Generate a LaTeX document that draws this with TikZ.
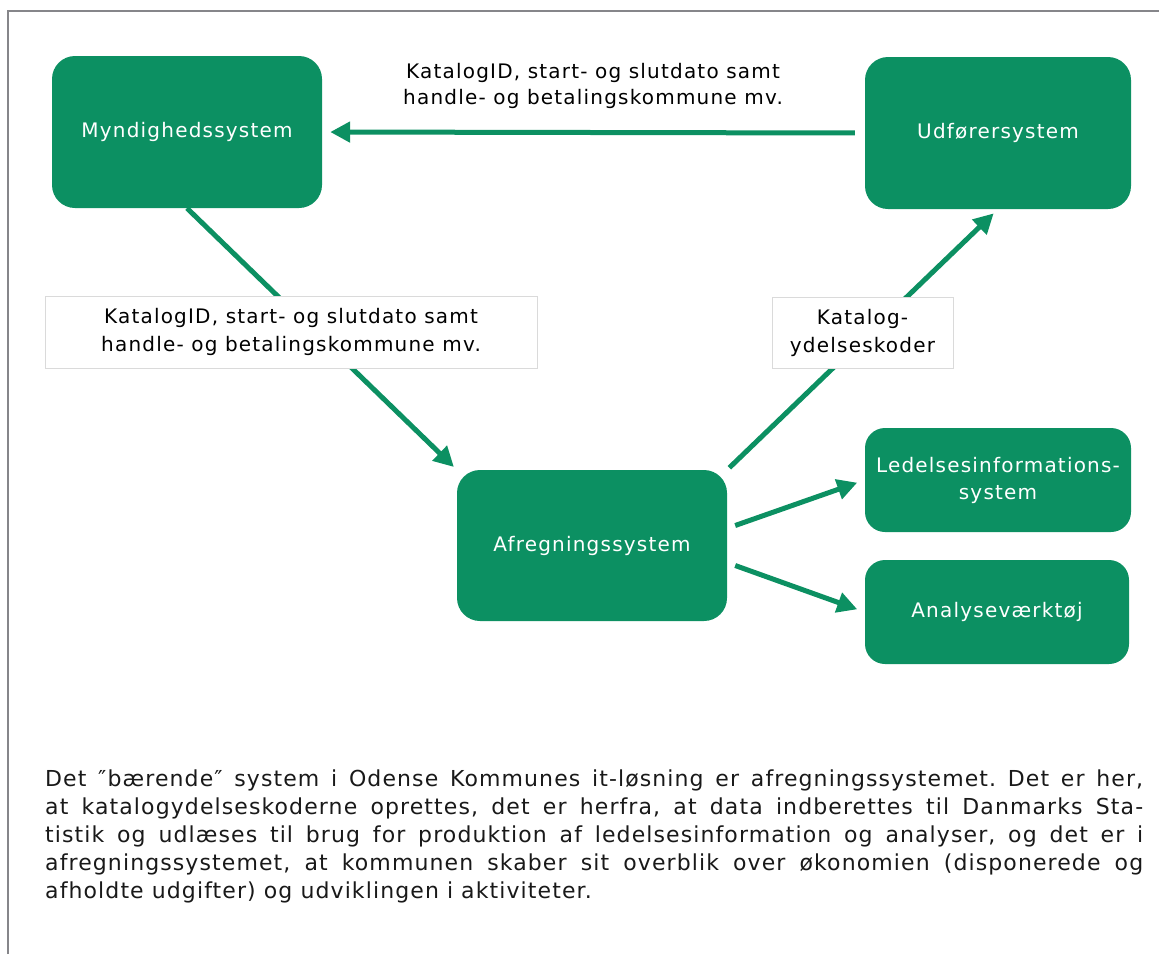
\documentclass[tikz,border=0pt]{standalone}
\usepackage{fontspec}
\setmainfont{DejaVu Sans}
\newfontfamily\diagfont[LetterSpace=6]{DejaVu Sans}
\newfontfamily\bodyfont[LetterSpace=5]{DejaVu Sans}
\usetikzlibrary{arrows.meta,calc}
\definecolor{grn}{RGB}{12,144,98}
\definecolor{framegray}{RGB}{134,134,138}
\definecolor{lblline}{RGB}{218,218,218}
\definecolor{bodytext}{RGB}{25,25,25}
\begin{document}
\begin{tikzpicture}[x=1pt,y=-1pt,
  sysbox/.style={fill=grn, rounded corners=23pt, text=white,
    font=\diagfont\fontsize{20}{27}\selectfont, align=center, inner sep=0pt},
  lblbox/.style={fill=white, draw=lblline, line width=0.8pt, inner sep=0pt,
    font=\diagfont\fontsize{20}{28}\selectfont, align=center, text=black},
  flow/.style={grn, line width=5pt, -{Triangle[length=20pt,width=20pt]}}]
\useasboundingbox (0,0) rectangle (1159,954);
% frame
\draw[framegray, line width=2.2pt] (8,954) -- (8,11) -- (1159,11);
% system boxes
\node[sysbox, minimum width=270pt, minimum height=152pt] (myn) at (187,132) {Myndighedssystem};
\node[sysbox, minimum width=266pt, minimum height=152pt] (udf) at (998,133) {Udførersystem};
\node[sysbox, minimum width=270pt, minimum height=151pt] (afr) at (592,545.5) {Afregningssystem};
\node[sysbox, rounded corners=20pt, minimum width=266pt, minimum height=104pt] (led) at (998,480) {Ledelsesinformations-\\system};
\node[sysbox, rounded corners=20pt, minimum width=264pt, minimum height=104pt] (ana) at (997,612) {Analyseværktøj};
% connectors
\draw[flow, shorten <=10pt, shorten >=8pt] (udf.west) -- (myn.east);
\draw[flow, shorten >=4pt] (myn.south) -- (afr.north west);
\draw[flow, shorten <=3pt, shorten >=6pt] (afr.north east) -- (udf.south);
\draw[flow, shorten >=8pt] ($(afr.east)+(8,-20)$) -- (led.west);
\draw[flow, shorten >=8pt] ($(afr.east)+(8,20)$) -- (ana.west);
% labels
\node[lblbox, minimum width=492pt, minimum height=72pt] (lbla) at (291,332) {KatalogID, start- og slutdato samt\\handle- og betalingskommune mv.};
\node[lblbox, minimum width=181pt, minimum height=71pt] (lblb) at (862.5,332.5) {Katalog-\\ydelseskoder};
\node[font=\diagfont\fontsize{20}{26}\selectfont, align=center, inner sep=0pt] (lblc) at (593,86) {KatalogID, start- og slutdato samt\\handle- og betalingskommune mv.};
% body text
\node[anchor=north west, inner sep=0pt, text=bodytext] (body) at (45,770) {%
\begin{minipage}{1098pt}\bodyfont\fontsize{22}{28}\selectfont\frenchspacing
\hbox to \linewidth{Det ″bærende″ system i Odense Kommunes it-løsning er afregningssystemet. Det er her,}
\hbox to \linewidth{at katalogydelseskoderne oprettes, det er herfra, at data indberettes til Danmarks Sta-}
\hbox to \linewidth{tistik og udlæses til brug for produktion af ledelsesinformation og analyser, og det er i}
\hbox to \linewidth{afregningssystemet, at kommunen skaber sit overblik over økonomien (disponerede og}
\hbox{afholdte udgifter) og udviklingen i aktiviteter.}
\end{minipage}};
\end{tikzpicture}
\end{document}
